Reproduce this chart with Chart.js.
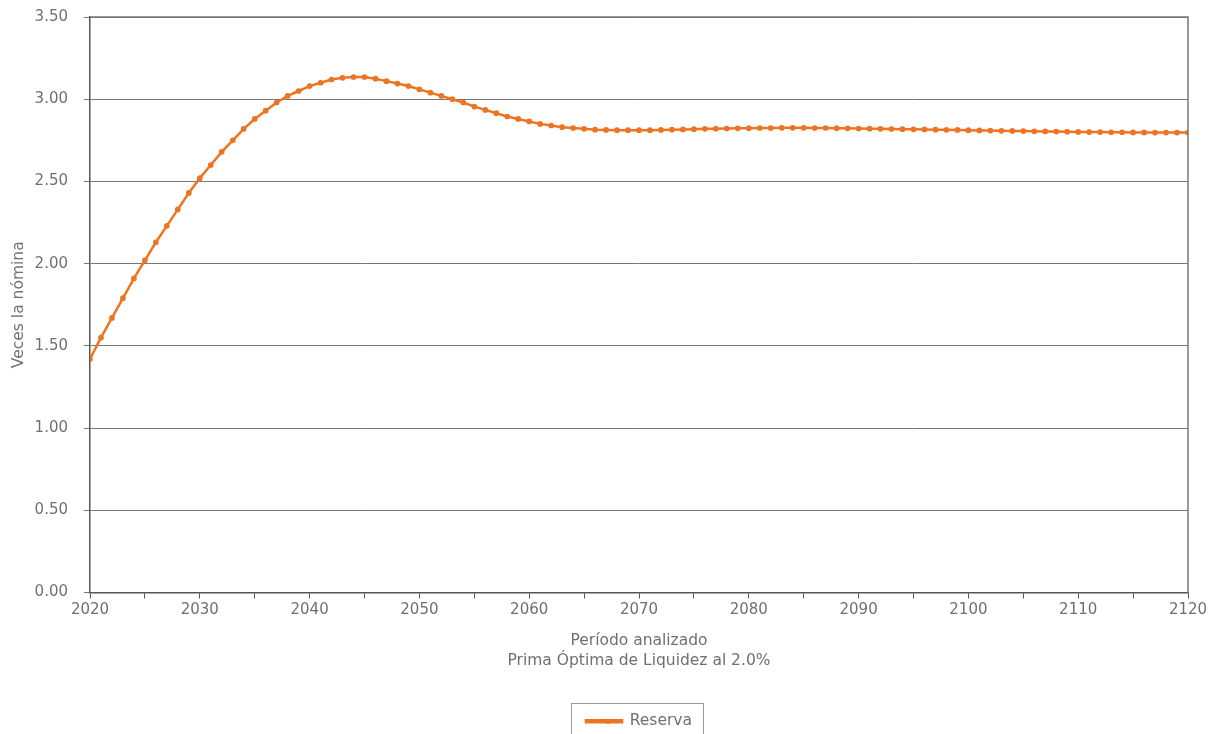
<!DOCTYPE html>
<html>
<head>
<meta charset="utf-8">
<script src="https://cdn.jsdelivr.net/npm/chart.js@4"></script>
<style>
  html, body { margin: 0; padding: 0; background: #fff; }
  #wrap { width: 1223px; height: 734px; }
</style>
</head>
<body>
<div id="wrap"><canvas id="grafico" width="1223" height="734"></canvas></div>
<script>
// años del periodo analizado
const anios = [
  2020,2021,2022,2023,2024,2025,2026,2027,2028,2029,
  2030,2031,2032,2033,2034,2035,2036,2037,2038,2039,
  2040,2041,2042,2043,2044,2045,2046,2047,2048,2049,
  2050,2051,2052,2053,2054,2055,2056,2057,2058,2059,
  2060,2061,2062,2063,2064,2065,2066,2067,2068,2069,
  2070,2071,2072,2073,2074,2075,2076,2077,2078,2079,
  2080,2081,2082,2083,2084,2085,2086,2087,2088,2089,
  2090,2091,2092,2093,2094,2095,2096,2097,2098,2099,
  2100,2101,2102,2103,2104,2105,2106,2107,2108,2109,
  2110,2111,2112,2113,2114,2115,2116,2117,2118,2119,
  2120
]

// reserva en veces la nomina
const reserva = [
  1.42,1.55,1.67,1.79,1.91,2.02,2.13,2.23,2.33,2.43,
  2.52,2.60,2.68,2.75,2.82,2.88,2.93,2.98,3.02,3.05,
  3.08,3.10,3.12,3.13,3.135,3.135,3.125,3.11,3.095,3.08,
  3.06,3.04,3.02,3.00,2.98,2.955,2.935,2.915,2.895,2.88,
  2.865,2.85,2.84,2.83,2.825,2.82,2.815,2.813,2.812,2.812,
  2.812,2.812,2.813,2.815,2.816,2.818,2.82,2.821,2.822,2.823,
  2.824,2.825,2.825,2.826,2.826,2.826,2.825,2.825,2.824,2.823,
  2.822,2.821,2.82,2.819,2.818,2.817,2.816,2.815,2.814,2.813,
  2.812,2.81,2.809,2.808,2.807,2.806,2.805,2.804,2.803,2.802,
  2.801,2.80,2.80,2.799,2.799,2.798,2.798,2.797,2.797,2.797,
  2.797
]

const tituloX = ['Período analizado', 'Prima Óptima de Liquidez al 2.0%']
const tituloY = 'Veces la nómina'
const naranja = '#ED7422'
const gris = '#707070'

const puntos = anios.map((a, i) => ({ x: a, y: reserva[i] }))

// marco del area de trazado y recuadro de la leyenda
const marco = {
  id: 'marco',
  afterDraw(chart) {
    const c = chart.ctx
    const a = chart.chartArea
    c.save()
    c.strokeStyle = '#777'
    c.lineWidth = 1.5
    c.beginPath()
    c.moveTo(a.left, a.top)
    c.lineTo(a.right, a.top)
    c.lineTo(a.right, a.bottom)
    c.stroke()
    const hb = chart.legend.legendHitBoxes[0]
    if (hb) {
      c.strokeStyle = '#999'
      c.lineWidth = 1
      c.strokeRect(Math.round(hb.left) - 14.5, Math.round(hb.top) - 10.5, hb.width + 26, hb.height + 30)
      c.fillStyle = naranja
      c.beginPath()
      c.arc(hb.left + 22, hb.top + hb.height / 2, 2.6, 0, Math.PI * 2)
      c.fill()
    }
    c.restore()
  }
}

Chart.defaults.font.family = '"DejaVu Sans", sans-serif'
Chart.defaults.color = gris

const ctx = document.getElementById('grafico')
let grafico = new Chart(ctx, {
  type: 'line',
  data: {
    datasets: [{
      label: 'Reserva',
      data: puntos,
      borderColor: naranja,
      backgroundColor: naranja,
      borderWidth: 2.5,
      pointRadius: 1.6,
      pointHoverRadius: 1.6,
      tension: 0
    }]
  },
  options: {
    responsive: false,
    animation: false,
    layout: { autoPadding: false, padding: { top: 17, right: 35, left: 0, bottom: -5 } },
    scales: {
      x: {
        type: 'linear',
        min: 2020,
        max: 2120,
        afterFit: (s) => { s.height = 113; s.paddingLeft = 0; s.paddingRight = 0 },
        ticks: {
          stepSize: 5,
          autoSkip: false,
          maxRotation: 0,
          font: { size: 15 },
          color: gris,
          padding: 3,
          callback: (v) => (v % 10 === 0 ? String(v) : '')
        },
        grid: { drawOnChartArea: false, drawTicks: true, tickLength: 6, color: '#555' },
        border: { color: '#555', width: 1.5 },
        title: { display: true, text: tituloX, font: { size: 15.5, lineHeight: 1.3 }, color: gris, padding: { top: 8, bottom: 34 } }
      },
      y: {
        min: 0,
        max: 3.5,
        afterFit: (s) => { s.width = 90; s.paddingTop = 0; s.paddingBottom = 0 },
        ticks: {
          stepSize: 0.5,
          font: { size: 15 },
          color: gris,
          padding: 16,
          callback: (v) => v.toFixed(2)
        },
        grid: { color: '#777', lineWidth: 1, tickLength: 6 },
        border: { color: '#555', width: 1.5 },
        title: { display: true, text: tituloY, font: { size: 15.5 }, color: gris, padding: { top: 10, bottom: 0 } }
      }
    },
    plugins: {
      legend: {
        position: 'bottom',
        fullSize: false,
        labels: {
          boxWidth: 36,
          boxHeight: 2,
          font: { size: 15.5 },
          color: gris,
          padding: 8
        }
      },
      tooltip: { enabled: false }
    }
  },
  plugins: [marco]
})
</script>
</body>
</html>
